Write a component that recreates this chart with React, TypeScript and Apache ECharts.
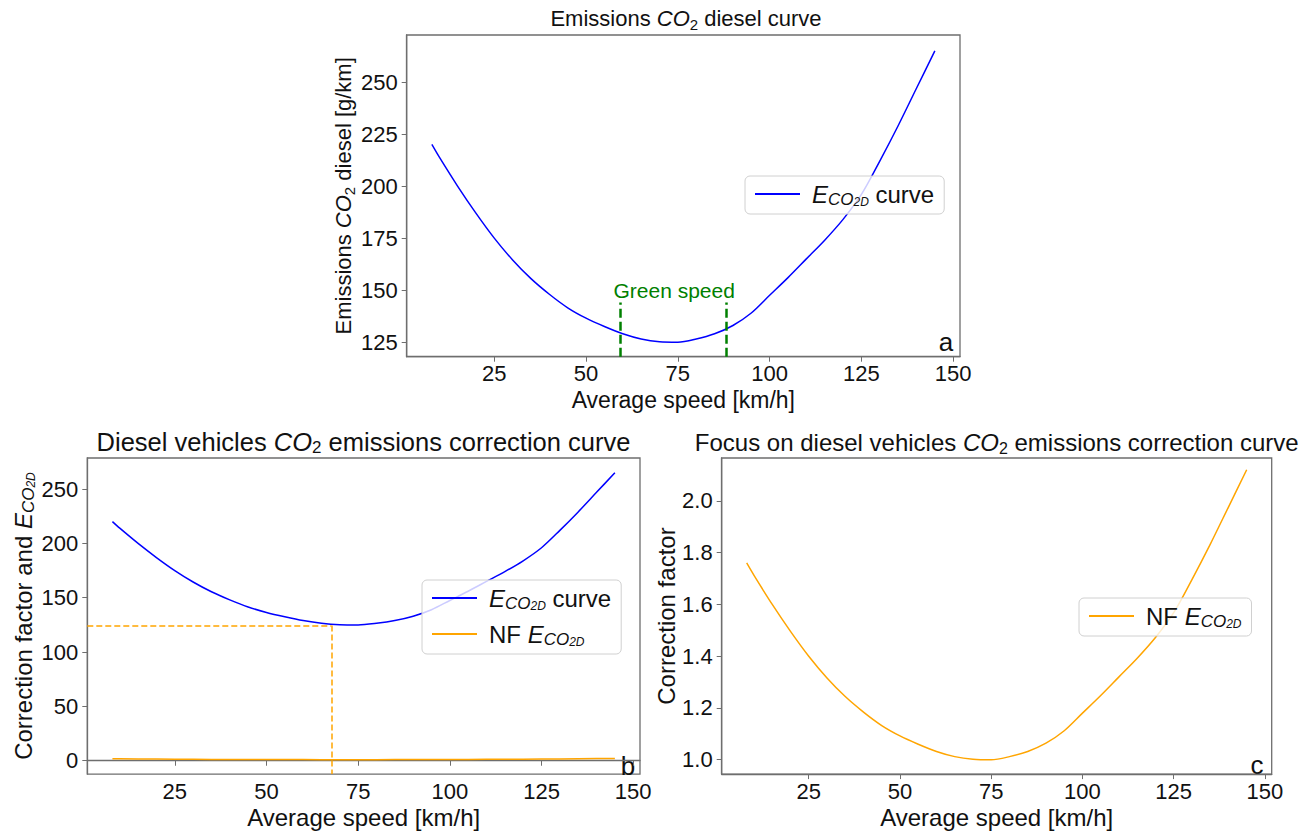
import React, { useEffect, useRef } from "react";
import * as echarts from "echarts";

// ---- data ----
const speeds = [8, 10, 15, 20, 25, 30, 35, 40, 45, 50, 55, 60, 65, 70, 75, 80, 85, 90, 95, 100, 105, 110, 115, 120, 125, 130, 135, 140, 145];
const emissions = [220, 214, 200, 187, 175, 164.5, 155.5, 148, 141.5, 136.5, 132.5, 129, 126.5, 125.2, 125, 126.5, 129, 133, 139, 147.5, 156, 165, 174, 184, 196, 212, 229, 247, 265];
const correction = [1.76, 1.712, 1.6, 1.496, 1.4, 1.316, 1.244, 1.184, 1.132, 1.092, 1.06, 1.032, 1.012, 1.002, 1.0, 1.012, 1.032, 1.064, 1.112, 1.18, 1.248, 1.32, 1.392, 1.472, 1.568, 1.696, 1.832, 1.976, 2.12];
const xTicks = [25, 50, 75, 100, 125, 150];
const yTicksA = [125, 150, 175, 200, 225, 250];
const yTicksB = [0, 50, 100, 150, 200, 250];
const yTicksC = [1.0, 1.2, 1.4, 1.6, 1.8, 2.0];
const greenSpeeds = [59.3, 88.3];
const greenTop = 144;
const greenLabel = [74, 149.6];
const optimum = [67.7, 124.5];

const X_MIN = 1.15, X_MAX = 151.85;
const A_MIN = 118, A_MAX = 272.6;
const B_MIN = -12.3, B_MAX = 278.6;
const C_MIN = 0.9445, C_MAX = 2.1655;

const FONT = '"Liberation Sans", Arial, sans-serif';
const TXT = "#111";
const AX = "#6e6e6e";
const BLUE = "#0000ff";
const ORANGE = "#ffa500";
const GREEN = "#008000";

const rich = (size: number) => ({
  n: { fontSize: size, fontFamily: FONT, color: TXT, lineHeight: 28 },
  i: { fontSize: size, fontFamily: FONT, color: TXT, fontStyle: "italic", lineHeight: 28 },
  ip: { fontSize: size, fontFamily: FONT, color: TXT, fontStyle: "italic", lineHeight: 28, padding: [0, 0, 0, 7] },
  np: { fontSize: size, fontFamily: FONT, color: TXT, lineHeight: 28, padding: [0, 0, 0, 7] },
  s: { fontSize: Math.round(size * 0.68), fontFamily: FONT, color: TXT, lineHeight: 16, verticalAlign: "bottom" },
  si: { fontSize: Math.round(size * 0.7), fontFamily: FONT, color: TXT, fontStyle: "italic", lineHeight: 16, verticalAlign: "bottom" },
  ss: { fontSize: Math.round(size * 0.5), fontFamily: FONT, color: TXT, fontStyle: "italic", lineHeight: 10, verticalAlign: "bottom" },
});

const pairs = (ys: number[]) => speeds.map((s, i) => [s, ys[i]]);

function xAxis(gridIndex: number, nameSize: number) {
  return {
    type: "value",
    gridIndex,
    min: X_MIN,
    max: X_MAX,
    splitLine: { show: false },
    axisLine: { show: true, lineStyle: { color: AX, width: 1.3 } },
    axisTick: { show: true, customValues: xTicks, length: 5, lineStyle: { color: AX } },
    axisLabel: { customValues: xTicks, fontSize: 22, fontFamily: FONT, color: TXT, margin: 6 },
    name: "Average speed [km/h]",
    nameLocation: "middle",
    nameGap: 24,
    nameTextStyle: { fontSize: nameSize, fontFamily: FONT, color: TXT, verticalAlign: "top", lineHeight: 28 },
  };
}

function yAxis(gridIndex: number, min: number, max: number, ticks: number[], name: string, gap: number, nameSize: number, fmt?: (v: number) => string) {
  return {
    type: "value",
    gridIndex,
    min,
    max,
    splitLine: { show: false },
    axisLine: { show: true, lineStyle: { color: AX, width: 1.3 } },
    axisTick: { show: true, customValues: ticks, length: 5, lineStyle: { color: AX } },
    axisLabel: { customValues: ticks, fontSize: 22, fontFamily: FONT, color: TXT, margin: 9, formatter: fmt },
    name,
    nameLocation: "middle",
    nameGap: gap,
    nameTextStyle: { fontSize: nameSize, fontFamily: FONT, color: TXT, rich: rich(nameSize) },
  };
}

const legendBase = {
  orient: "vertical",
  icon: "rect",
  itemWidth: 45,
  itemHeight: 2,
  itemGap: 10,
  padding: [6, 10, 6, 10],
  borderColor: "#d0d0d0",
  borderWidth: 1,
  borderRadius: 5,
  backgroundColor: "rgba(255,255,255,0.8)",
  selectedMode: false,
  textStyle: { fontSize: 24, fontFamily: FONT, color: TXT, rich: rich(24) },
  formatter: (name: string) =>
    name.startsWith("E") ? "{ip|E}{si|CO}{ss|2D}{n| curve}" : "{np|NF }{i|E}{si|CO}{ss|2D}",
};

export default function App() {
  const ref = useRef<HTMLDivElement>(null);
  useEffect(() => {
    if (!ref.current) return;
    const chart = echarts.init(ref.current, undefined, { renderer: "svg" });
    const titleStyle = (size: number) => ({ fontSize: size, fontWeight: "normal", fontFamily: FONT, color: TXT, lineHeight: 28, rich: rich(size) });
    chart.setOption({
      animation: false,
      backgroundColor: "#ffffff",
      title: [
        { text: "Emissions {i|CO}{s|2} diesel curve", left: 686, top: 4, textAlign: "center", textStyle: titleStyle(22), padding: 0 },
        { text: "Diesel vehicles {i|CO}{s|2} emissions correction curve", left: 363.5, top: 428, textAlign: "center", textStyle: titleStyle(25.5), padding: 0 },
        { text: "Focus on diesel vehicles {i|CO}{s|2} emissions correction curve", left: 996.7, top: 428, textAlign: "center", textStyle: titleStyle(24), padding: 0 },
      ],
      grid: [
        { left: 406.7, top: 35, width: 553.3, height: 321.7, show: true, borderColor: AX, borderWidth: 1.3, containLabel: false },
        { left: 87.3, top: 458, width: 552.7, height: 321.5, show: true, borderColor: AX, borderWidth: 1.3, containLabel: false },
        { left: 721.7, top: 458, width: 550, height: 322, show: true, borderColor: AX, borderWidth: 1.3, containLabel: false },
      ],
      xAxis: [xAxis(0, 23), xAxis(1, 24), xAxis(2, 24)],
      yAxis: [
        yAxis(0, A_MIN, A_MAX, yTicksA, "{n|Emissions }{i|CO}{s|2}{n| diesel [g/km]}", 36, 22),
        yAxis(1, B_MIN, B_MAX, yTicksB, "{n|Correction factor and }{i|E}{si|CO}{ss|2D}", 50, 24),
        yAxis(2, C_MIN, C_MAX, yTicksC, "{n|Correction factor}", 36, 24, (v: number) => v.toFixed(1)),
      ],
      legend: [
        { ...legendBase, data: ["E_a"], left: 745, top: 176 },
        { ...legendBase, data: ["E_b", "NF_b"], left: 422, top: 580 },
        { ...legendBase, data: ["NF_c"], left: 1079, top: 598 },
      ],
      series: [
        {
          name: "E_a",
          type: "line",
          xAxisIndex: 0,
          yAxisIndex: 0,
          data: pairs(emissions),
          showSymbol: false,
          color: BLUE,
          lineStyle: { color: BLUE, width: 1.5 },
          smooth: 0.3,
          markLine: {
            silent: true,
            symbol: ["none", "none"],
            label: { show: false },
            lineStyle: { color: GREEN, type: [9, 4], width: 2.5 },
            data: greenSpeeds.map((s) => [{ coord: [s, A_MIN] }, { coord: [s, greenTop] }]),
          },
          markPoint: {
            silent: true,
            symbol: "rect",
            symbolSize: 1,
            itemStyle: { color: "rgba(0,0,0,0)" },
            label: { show: true, position: "inside", formatter: "Green speed", color: GREEN, fontSize: 21, fontFamily: FONT },
            data: [{ coord: greenLabel }],
          },
        },
        {
          name: "E_b",
          type: "line",
          xAxisIndex: 1,
          yAxisIndex: 1,
          data: pairs(emissions),
          showSymbol: false,
          color: BLUE,
          lineStyle: { color: BLUE, width: 1.5 },
          smooth: 0.3,
        },
        {
          name: "NF_b",
          type: "line",
          xAxisIndex: 1,
          yAxisIndex: 1,
          data: pairs(correction),
          showSymbol: false,
          color: ORANGE,
          lineStyle: { color: ORANGE, width: 1.5 },
          markLine: {
            silent: true,
            symbol: ["none", "none"],
            label: { show: false },
            lineStyle: { color: ORANGE, type: [6, 3], width: 1.5 },
            data: [
              [{ coord: [X_MIN, optimum[1]] }, { coord: [optimum[0], optimum[1]] }],
              [{ coord: [optimum[0], optimum[1]] }, { coord: [optimum[0], B_MIN] }],
            ],
          },
        },
        {
          name: "NF_c",
          type: "line",
          xAxisIndex: 2,
          yAxisIndex: 2,
          data: pairs(correction),
          showSymbol: false,
          color: ORANGE,
          lineStyle: { color: ORANGE, width: 1.5 },
          smooth: 0.3,
        },
      ],
      graphic: [
        { type: "text", x: 946, y: 342, style: { text: "a", fontSize: 26, fontFamily: FONT, fill: TXT, align: "center", verticalAlign: "middle" } },
        { type: "text", x: 628, y: 766, style: { text: "b", fontSize: 26, fontFamily: FONT, fill: TXT, align: "center", verticalAlign: "middle" } },
        { type: "text", x: 1257, y: 765, style: { text: "c", fontSize: 26, fontFamily: FONT, fill: TXT, align: "center", verticalAlign: "middle" } },
      ],
    });
    return () => chart.dispose();
  }, []);
  return <div ref={ref} style={{ position: "fixed", left: 0, top: 0, width: 1311, height: 832, background: "#fff" }} />;
}
